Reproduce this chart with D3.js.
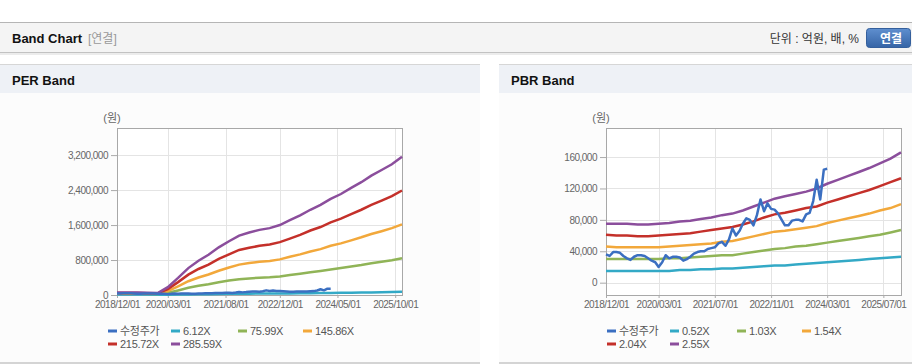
<!DOCTYPE html>
<html>
<head>
<meta charset="utf-8">
<script src="https://cdn.jsdelivr.net/npm/d3@7"></script>
<style>
body { margin: 0; background: #fff; }
svg text { font-family: "Liberation Sans", Arial, "Noto Sans CJK KR", sans-serif; }
</style>
</head>
<body>
<div id="band-container"></div>
<script>
// ---- data ----
var startDate = "2018-12-01";
var endDate = "2025-12-01";

var seriesColors = ["#3b6fc1", "#33a9c6", "#90b457", "#f2a83b", "#c4302a", "#8b4e9c"];
var perNames = ["수정주가", "6.12X", "75.99X", "145.86X", "215.72X", "285.59X"];
var pbrNames = ["수정주가", "0.52X", "1.03X", "1.54X", "2.04X", "2.55X"];

var perXTicks = ["2018-12-01", "2020-03-01", "2021-08-01", "2022-12-01", "2024-05-01", "2025-10-01"];
var pbrXTicks = ["2018-12-01", "2020-03-01", "2021-07-01", "2022-11-01", "2024-03-01", "2025-07-01"];
var perYTicks = [0, 800000, 1600000, 2400000, 3200000];
var pbrYTicks = [0, 40000, 80000, 120000, 160000];

// 수정주가, monthly from 2018/12
var price = [36000, 34000, 39000, 39000, 38000, 34000, 31000, 29000, 33000, 35000,
    35000, 34000, 31000, 28000, 26000, 20000, 26000, 35000, 31000, 33000,
    33000, 32000, 28000, 30000, 33000, 37000, 39000, 40000, 40000, 43000,
    44000, 45000, 50000, 52000, 47000, 55000, 69000, 60000, 66000, 75000,
    82000, 80000, 73000, 86000, 106000, 91000, 101000, 94000, 93000, 88000,
    80000, 73000, 73000, 79000, 80000, 80000, 78000, 87000, 89000, 104000,
    131000, 106000, 144000, 145000];

// PER band lines, quarterly from 2018/12
var per612 = [10000, 10000, 10000, 9000, 7000, 5000, 9000, 13000, 17000, 20000, 23000, 26000, 29000, 31000, 32000,
    33000, 34000, 37000, 39000, 42000, 44000, 47000, 50000, 53000, 57000, 60000, 64000, 68000, 72000];
var per7599 = [30000, 30000, 30000, 28000, 22000, 50000, 105000, 165000, 210000, 245000, 290000, 330000, 360000, 380000, 395000,
    405000, 425000, 455000, 485000, 520000, 550000, 585000, 615000, 650000, 685000, 725000, 760000, 795000, 840000];
var per14586 = [40000, 40000, 40000, 38000, 32000, 90000, 200000, 315000, 400000, 470000, 555000, 630000, 695000, 730000, 760000,
    780000, 815000, 875000, 930000, 995000, 1050000, 1125000, 1180000, 1250000, 1320000, 1395000, 1460000, 1530000, 1615000];
var per21572 = [45000, 45000, 45000, 42000, 38000, 135000, 295000, 465000, 595000, 695000, 825000, 930000, 1030000, 1080000, 1125000,
    1155000, 1210000, 1290000, 1375000, 1475000, 1555000, 1660000, 1745000, 1850000, 1950000, 2060000, 2160000, 2260000, 2390000];
var per28559 = [55000, 55000, 55000, 50000, 45000, 180000, 390000, 615000, 785000, 920000, 1090000, 1230000, 1360000, 1430000, 1490000,
    1530000, 1600000, 1710000, 1820000, 1950000, 2060000, 2200000, 2310000, 2450000, 2580000, 2730000, 2860000, 2990000, 3165000];

// PBR band lines, quarterly from 2018/12
var pbr052 = [15000, 15000, 15000, 15000, 15000, 15000, 15000, 16000, 16000, 17000, 17000, 18000, 18000, 19000, 20000,
    21000, 22000, 22000, 23000, 24000, 25000, 26000, 27000, 28000, 29000, 30000, 31000, 32000, 33000];
var pbr103 = [30000, 30000, 30000, 30000, 30000, 30000, 31000, 31000, 32000, 33000, 34000, 35000, 35000, 37000, 39000,
    41000, 43000, 44000, 46000, 47000, 49000, 51000, 53000, 55000, 57000, 59000, 61000, 64000, 67000];
var pbr154 = [46000, 45000, 45000, 45000, 45000, 45000, 46000, 47000, 48000, 49000, 50000, 52000, 53000, 56000, 59000,
    62000, 65000, 66000, 68000, 70000, 72000, 76000, 79000, 82000, 85000, 88000, 92000, 95000, 100000];
var pbr204 = [61000, 60000, 60000, 59000, 59000, 60000, 61000, 62000, 63000, 65000, 67000, 69000, 71000, 74000, 78000,
    83000, 87000, 89000, 92000, 95000, 97000, 102000, 106000, 110000, 114000, 118000, 123000, 128000, 133000];
var pbr255 = [75000, 75000, 75000, 74000, 74000, 75000, 76000, 78000, 79000, 81000, 83000, 86000, 88000, 92000, 97000,
    102000, 107000, 110000, 113000, 116000, 120000, 126000, 131000, 136000, 141000, 146000, 152000, 158000, 166000];

// ---- layout ----
var width = 912;
var height = 364;
var parseDate = d3.timeParse("%Y-%m-%d");
var t0 = parseDate(startDate);

var svg = d3.select("#band-container")
    .append("svg")
    .attr("width", width)
    .attr("height", height);

// top header bar
svg.append("rect").attr("x", 0).attr("y", 22).attr("width", width).attr("height", 1).attr("fill", "#b5b5b5");
svg.append("rect").attr("x", 0).attr("y", 23).attr("width", width).attr("height", 29).attr("fill", "#f4f4f4");
svg.append("rect").attr("x", 0).attr("y", 52).attr("width", width).attr("height", 1).attr("fill", "#c2c2c2");
svg.append("rect").attr("x", 0).attr("y", 53).attr("width", width).attr("height", 2).attr("fill", "#ececec");

svg.append("text").attr("x", 12).attr("y", 42.5)
    .attr("font-size", "13px").attr("font-weight", "bold").attr("fill", "#111")
    .text("Band Chart");
svg.append("text").attr("x", 88).attr("y", 42.5)
    .attr("font-size", "12px").attr("fill", "#999")
    .text("[연결]");
svg.append("text").attr("x", 859).attr("y", 42.5)
    .attr("text-anchor", "end").attr("font-size", "12px").attr("fill", "#333")
    .text("단위 : 억원, 배, %");

var grad = svg.append("defs").append("linearGradient")
    .attr("id", "btnGrad").attr("x1", 0).attr("y1", 0).attr("x2", 0).attr("y2", 1);
grad.append("stop").attr("offset", "0%").attr("stop-color", "#5f8fcf");
grad.append("stop").attr("offset", "100%").attr("stop-color", "#3564a6");
svg.append("rect").attr("x", 866.5).attr("y", 28.5).attr("width", 44).attr("height", 19)
    .attr("rx", 3).attr("fill", "url(#btnGrad)").attr("stroke", "#345f9c");
svg.append("text").attr("x", 891).attr("y", 42.5)
    .attr("text-anchor", "middle").attr("font-size", "12px").attr("font-weight", "bold").attr("fill", "#fff")
    .text("연결");

function drawPanel(px, pw, title) {
    svg.append("rect").attr("x", px).attr("y", 64).attr("width", pw).attr("height", 1).attr("fill", "#d6d6d6");
    svg.append("rect").attr("x", px).attr("y", 65).attr("width", pw).attr("height", 28).attr("fill", "#eef1f6");
    svg.append("rect").attr("x", px).attr("y", 93).attr("width", pw).attr("height", 269).attr("fill", "#fcfcfc");
    svg.append("rect").attr("x", px).attr("y", 362).attr("width", pw).attr("height", 2).attr("fill", "#d4d4d4");
    svg.append("text").attr("x", px + 12).attr("y", 85)
        .attr("font-size", "13px").attr("font-weight", "bold").attr("fill", "#111")
        .text(title);
}

function drawBand(cfg) {
    var xScale = d3.scaleTime()
        .domain([t0, parseDate(endDate)])
        .range([cfg.left, cfg.right]);
    var yScale = d3.scaleLinear()
        .domain(cfg.yDomain)
        .range([295, 128]);

    var g = svg.append("g");
    g.append("rect")
        .attr("x", cfg.left).attr("y", 128)
        .attr("width", cfg.right - cfg.left).attr("height", 167)
        .attr("fill", "#fff");

    // grid
    g.selectAll(".hgrid").data(cfg.yTicks).enter().append("line")
        .attr("x1", cfg.left).attr("x2", cfg.right)
        .attr("y1", function (d) { return Math.round(yScale(d)) + 0.5; })
        .attr("y2", function (d) { return Math.round(yScale(d)) + 0.5; })
        .attr("stroke", "#e4e4e4");
    g.selectAll(".vgrid").data(cfg.xTicks).enter().append("line")
        .attr("x1", function (d) { return Math.round(xScale(parseDate(d))) + 0.5; })
        .attr("x2", function (d) { return Math.round(xScale(parseDate(d))) + 0.5; })
        .attr("y1", 128).attr("y2", 295)
        .attr("stroke", "#e4e4e4");

    var xAxis = d3.axisBottom(xScale)
        .tickValues(cfg.xTicks.map(parseDate))
        .tickFormat(d3.timeFormat("%Y/%m/%d"))
        .tickSize(3).tickPadding(3);
    var yAxis = d3.axisLeft(yScale)
        .tickValues(cfg.yTicks)
        .tickFormat(d3.format(","))
        .tickSize(6).tickPadding(3);

    var xg = g.append("g").attr("transform", "translate(0,295)").call(xAxis);
    var yg = g.append("g").attr("transform", "translate(" + cfg.left + ",0)").call(yAxis);
    [xg, yg].forEach(function (a) {
        a.select(".domain").remove();
        a.selectAll("line").attr("stroke", "#aaa");
        a.selectAll("text").attr("fill", "#666").style("font-size", "10px")
            .style("letter-spacing", "-0.5px")
            .style("font-family", "'Liberation Sans', Arial, sans-serif");
    });

    // frame
    g.append("rect")
        .attr("x", cfg.left + 0.5).attr("y", 128.5)
        .attr("width", cfg.right - cfg.left).attr("height", 167)
        .attr("fill", "none").attr("stroke", "#a8a8a8");

    g.append("text")
        .attr("x", cfg.left - 5).attr("y", 122)
        .attr("text-anchor", "middle").attr("font-size", "11px").attr("fill", "#666")
        .text("(원)");

    var bandLine = d3.line()
        .x(function (d, i) { return xScale(d3.timeMonth.offset(t0, i * 3)); })
        .y(function (d) { return yScale(d); });
    var priceLine = d3.line()
        .x(function (d, i) { return xScale(d3.timeMonth.offset(t0, i)); })
        .y(function (d) { return yScale(d); });

    g.selectAll(".band")
        .data(cfg.bands)
        .enter()
        .append("path")
        .attr("d", bandLine)
        .attr("fill", "none")
        .attr("stroke", function (d, i) { return seriesColors[i + 1]; })
        .attr("stroke-width", 2.5);

    g.append("path")
        .datum(cfg.price)
        .attr("d", priceLine)
        .attr("fill", "none")
        .attr("stroke", seriesColors[0])
        .attr("stroke-width", 2.5)
        .attr("stroke-linejoin", "round");

    // legend
    var colX = [0, 63, 130, 195];
    var legend = g.selectAll(".legend")
        .data(cfg.names)
        .enter()
        .append("g")
        .attr("transform", function (d, i) {
            return "translate(" + (cfg.legendX + colX[i % 4]) + "," + (i < 4 ? 331 : 344) + ")";
        });
    legend.append("rect")
        .attr("x", 0).attr("y", -1.5).attr("width", 9).attr("height", 3)
        .attr("fill", function (d, i) { return seriesColors[i]; });
    legend.append("text")
        .attr("x", 12).attr("y", 4)
        .attr("font-size", "11px").attr("fill", "#555")
        .style("letter-spacing", "-0.3px")
        .text(function (d) { return d; });
}

drawPanel(0, 480, "PER Band");
drawPanel(499, 413, "PBR Band");

drawBand({
    left: 117, right: 402,
    yDomain: [0, 3820000],
    yTicks: perYTicks, xTicks: perXTicks,
    bands: [per612, per7599, per14586, per21572, per28559],
    price: price,
    names: perNames,
    legendX: 108
});

drawBand({
    left: 606, right: 901,
    yDomain: [-15700, 197000],
    yTicks: pbrYTicks, xTicks: pbrXTicks,
    bands: [pbr052, pbr103, pbr154, pbr204, pbr255],
    price: price,
    names: pbrNames,
    legendX: 607
});
</script>
</body>
</html>
